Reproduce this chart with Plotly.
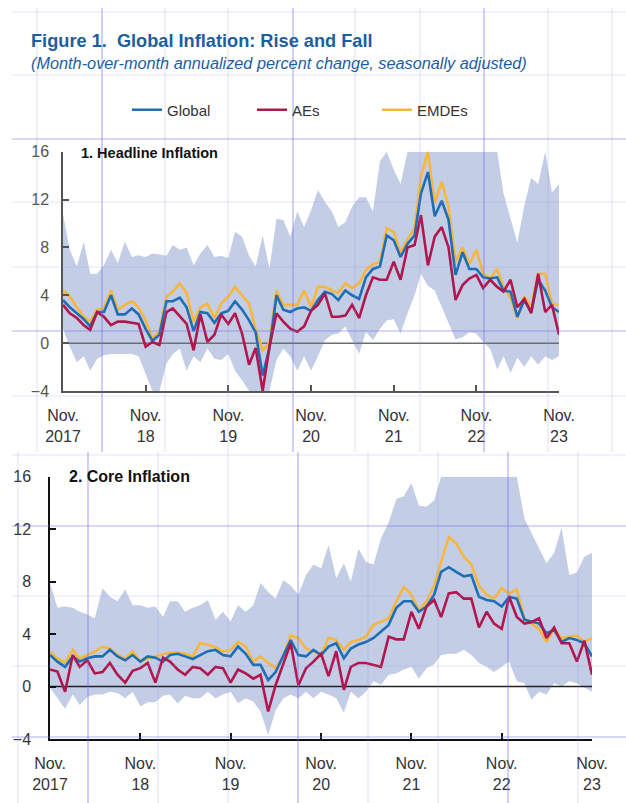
import pandas as pd
import plotly.graph_objects as go

# ---------------- data ----------------
months = pd.date_range("2017-11-01", "2023-11-01", freq="MS")
tick_dates = pd.date_range("2017-11-01", "2023-11-01", freq="12MS")
tick_text = ["Nov.<br>2017", "Nov.<br>18", "Nov.<br>19", "Nov.<br>20",
             "Nov.<br>21", "Nov.<br>22", "Nov.<br>23"]
y_ticks = [-4, 0, 4, 8, 12, 16]

head_global = [3.6, 3.0, 2.5, 2.0, 1.4, 2.6, 2.6, 4.0, 2.4, 2.4, 2.9, 2.4, 1.2, 0.2, 0.7,
               3.5, 3.5, 3.8, 3.0, 1.0, 2.6, 2.5, 1.7, 2.5, 2.7, 3.5, 2.8, 1.9, 0.9, -2.7,
               -0.4, 4.0, 2.8, 2.6, 2.9, 3.0, 2.7, 3.6, 4.3, 4.1, 3.6, 4.4, 4.0, 3.7, 5.5,
               6.2, 6.4, 9.0, 8.6, 7.2, 8.3, 9.0, 12.5, 14.3, 10.6, 11.9, 10.3, 5.7, 7.6,
               6.2, 6.2, 5.5, 5.4, 5.5, 4.4, 4.3, 2.2, 3.6, 2.6, 5.3, 4.4, 3.0, 2.6]
head_emdes = [4.4, 3.9, 3.0, 2.2, 1.8, 2.8, 2.9, 4.4, 2.8, 3.2, 3.5, 3.0, 1.9, 0.4, 1.0,
              3.9, 4.3, 5.0, 4.2, 1.8, 3.0, 3.3, 2.1, 3.3, 3.9, 4.7, 4.0, 3.3, 1.2, -0.6,
              0.0, 4.4, 3.2, 3.2, 3.2, 4.4, 3.0, 4.7, 4.7, 4.4, 4.2, 5.0, 4.6, 5.0, 6.1,
              6.6, 6.8, 9.6, 9.3, 7.6, 8.7, 9.6, 13.9, 16.0, 11.7, 13.5, 11.4, 6.8, 8.0,
              6.6, 7.8, 5.8, 5.4, 6.2, 4.7, 3.8, 2.1, 3.9, 3.0, 5.8, 5.8, 3.3, 3.2]
head_aes = [3.2, 2.5, 2.1, 1.5, 1.1, 2.6, 2.2, 1.5, 1.8, 1.8, 1.7, 1.6, -0.3, 0.1, -0.15,
            2.6, 2.9, 2.2, 1.6, -0.6, 2.4, 0.1, 0.7, 2.4, 1.6, 2.5, 0.8, -1.8, -0.4, -4.0,
            -0.3, 2.5, 1.8, 1.2, 0.95, 1.4, 2.7, 3.2, 4.15, 2.2, 2.2, 2.3, 3.2, 2.1, 4.0,
            5.5, 5.3, 5.3, 6.8, 5.3, 8.0, 8.2, 10.7, 6.5, 8.9, 9.7, 8.0, 3.6, 4.85,
            5.4, 5.7, 4.6, 5.3, 4.7, 4.3, 5.3, 3.0, 3.7, 2.5, 5.8, 2.6, 3.2, 0.7]
head_high = [10.8, 7.8, 6.4, 8.5, 5.8, 5.8, 6.5, 7.8, 6.7, 8.5, 7.2, 7.35, 7.2, 7.5, 7.4,
             7.3, 8.2, 7.8, 8.0, 6.5, 7.5, 8.2, 7.2, 7.3, 7.1, 9.3, 8.9, 7.3, 6.4, 9.0,
             6.2, 10.4, 10.3, 8.9, 11.0, 9.7, 11.1, 12.8, 11.8, 11.0, 9.7, 10.1, 11.4, 12.2, 12.2,
             11.0, 15.2, 16.0, 14.5, 13.3, 16.0, 16.0, 16.0, 16.0, 16.0, 16.0, 16.0, 16.0, 16.0,
             16.0, 16.0, 16.0, 16.0, 16.0, 12.5, 10.5, 8.4, 11.5, 13.8, 13.3, 16.0, 12.6, 13.3]
head_low = [1.2, -0.3, -1.6, -1.1, -2.3, -1.3, -1.0, -0.9, -0.9, -0.9, -0.9, -1.1, -2.5, -4.0, -4.0,
            -1.7, -0.9, -0.45, -2.3, -1.1, -1.6, -0.45, -1.3, -1.4, -0.9, -2.3, -3.1, -4.0, -4.0, -4.0,
            -4.0, -1.4, -0.45, -1.1, -2.3, -1.1, -2.3, -1.1, 0.25, 0.7, 0.8, 1.4, 0.25, -0.9, 0.95,
            0.25, 1.2, 1.9, 2.0, 0.8, 2.5, 4.0, 5.8, 4.8, 4.4, 3.0, 1.6, 0.3, 0.5,
            0.9, 0.8, 0.1, -0.5, -2.2, -1.1, -2.5, -1.2, -2.0, -1.1, -1.8, -1.1, -1.4, -1.1]

core_global = [2.4, 1.9, 1.5, 2.3, 1.9, 2.15, 2.3, 2.3, 2.8, 2.3, 2.0, 2.4, 1.9, 2.3, 2.2,
               1.9, 2.4, 2.5, 2.3, 2.1, 2.4, 2.7, 2.8, 2.4, 2.3, 3.05, 2.5, 1.65, 1.65, 0.5,
               1.1, 2.3, 3.55, 2.4, 2.3, 2.8, 2.4, 3.05, 3.3, 2.15, 2.9, 3.2, 3.4, 3.7, 4.2,
               4.7, 6.0, 6.5, 6.5, 5.7, 6.1, 7.0, 8.75, 9.1, 8.75, 8.4, 8.5, 6.85, 6.6,
               6.5, 6.1, 6.85, 6.7, 5.1, 4.95, 4.8, 4.06, 4.3, 3.4, 3.7, 3.55, 3.3, 2.3]
core_emdes = [2.66, 2.15, 1.8, 2.8, 2.15, 2.4, 2.66, 3.05, 2.9, 2.4, 2.1, 2.7, 1.9, 2.15, 2.3,
              2.5, 2.6, 2.6, 2.5, 2.3, 3.3, 3.2, 3.0, 2.66, 2.8, 3.4, 3.05, 1.9, 2.3, 1.8,
              1.4, 2.3, 3.9, 3.7, 2.9, 2.66, 2.4, 3.7, 3.55, 2.8, 3.4, 3.55, 3.8, 4.7, 4.95,
              5.2, 6.5, 7.6, 7.0, 5.8, 6.5, 7.7, 9.5, 11.4, 10.9, 9.9, 9.3, 7.7, 7.0,
              6.7, 7.5, 7.1, 7.4, 5.2, 4.8, 4.4, 3.4, 4.4, 3.7, 3.8, 3.9, 3.4, 3.7]
core_aes = [1.3, 1.15, -0.4, 2.4, 1.5, 2.0, 1.0, 1.1, 1.8, 0.9, 0.3, 1.2, 1.4, 1.8, 0.3,
            2.2, 1.9, 1.3, 0.9, 1.5, 1.4, 0.9, 1.5, 1.4, 0.3, 1.3, 1.0, 0.6, 0.9, -1.9,
            0.1, 1.8, 3.3, 0.1, 1.4, 1.9, 2.5, 0.8, 2.7, -0.25, 1.5, 1.8, 1.8, 1.65, 1.5,
            3.8, 3.6, 3.6, 5.7, 4.4, 6.1, 6.6, 5.3, 7.1, 7.2, 6.7, 6.7, 4.5, 5.7,
            4.8, 4.4, 6.85, 5.3, 4.8, 4.9, 5.2, 3.7, 4.5, 3.3, 3.3, 1.9, 3.5, 0.9]
core_high = [7.9, 6.0, 6.1, 6.0, 5.7, 5.5, 5.2, 7.5, 6.85, 6.5, 7.4, 6.2, 6.2, 6.0, 6.1,
             5.3, 6.5, 6.5, 5.7, 6.0, 6.2, 6.6, 5.1, 5.7, 4.95, 6.2, 5.7, 6.2, 7.9, 7.2,
             6.7, 8.1, 7.7, 7.0, 8.5, 9.3, 9.0, 10.8, 8.25, 9.4, 8.0, 10.5, 9.5, 9.3, 11.3,
             12.5, 14.3, 14.5, 15.5, 13.8, 13.7, 14.2, 16.0, 16.0, 16.0, 16.0, 16.0, 16.0, 16.0,
             16.0, 16.0, 16.0, 16.0, 12.8, 11.7, 10.5, 9.4, 10.2, 12.1, 8.5, 8.7, 9.9, 10.2]
core_low = [-0.1, -0.9, -1.7, -0.6, -1.4, -0.8, -0.6, -0.6, -0.4, -0.5, -0.9, -0.4, -1.5, -1.2, -1.2,
            -0.7, -0.6, -1.3, -0.7, -0.9, -0.9, -0.4, -0.9, -0.6, -0.4, -1.27, -0.9, -1.15, -1.9, -3.7,
            -1.8, -0.9, -0.6, -0.9, -0.4, -0.9, -0.4, -0.6, -0.9, -2.0, -0.4, -0.9, -0.4, 0.4, 0.13,
            0.9, 1.0, 1.3, 1.5, 0.6, 1.4, 1.7, 2.4, 2.5, 2.5, 2.8, 2.4, 1.8, 1.5,
            1.1, 1.5, 1.9, 0.4, 0.25, -1.0, -0.4, -0.6, 0.25, 0.0, 0.4, 0.25, -0.1, -0.4]

# ---------------- styles ----------------
W, H = 626, 803
FONT = "Liberation Sans, Arial, sans-serif"
C_GLOBAL = "#1f6db3"
C_AES = "#b0174e"
C_EMDES = "#f6b73c"
C_BAND = "#c4cde6"
C_TITLE = "#1d5e9f"


def px_x(x):
    return x / W


def px_y(y):
    return 1 - y / H


fig = go.Figure()

panels = [
    dict(x="x", y="y", hi=head_high, lo=head_low, g=head_global, a=head_aes, e=head_emdes,
         legend=True, zc="#6e6e6e"),
    dict(x="x2", y="y2", hi=core_high, lo=core_low, g=core_global, a=core_aes, e=core_emdes,
         legend=False, zc="#222222"),
]

for p in panels:
    fig.add_trace(go.Scatter(x=months, y=p["lo"], xaxis=p["x"], yaxis=p["y"], mode="lines",
                             line=dict(width=0, color=C_BAND), showlegend=False, hoverinfo="skip"))
    fig.add_trace(go.Scatter(x=months, y=p["hi"], xaxis=p["x"], yaxis=p["y"], mode="lines",
                             line=dict(width=0, color=C_BAND), fill="tonexty", fillcolor=C_BAND,
                             showlegend=False, hoverinfo="skip"))
    fig.add_trace(go.Scatter(x=[months[0], months[-1]], y=[0, 0], xaxis=p["x"], yaxis=p["y"],
                             mode="lines", line=dict(width=1.5, color=p["zc"]),
                             showlegend=False, hoverinfo="skip"))
    fig.add_trace(go.Scatter(x=months, y=p["e"], xaxis=p["x"], yaxis=p["y"], mode="lines",
                             name="EMDEs", line=dict(width=2.6, color=C_EMDES),
                             showlegend=p["legend"], legendrank=3))
    fig.add_trace(go.Scatter(x=months, y=p["g"], xaxis=p["x"], yaxis=p["y"], mode="lines",
                             name="Global", line=dict(width=2.6, color=C_GLOBAL),
                             showlegend=p["legend"], legendrank=1))
    fig.add_trace(go.Scatter(x=months, y=p["a"], xaxis=p["x"], yaxis=p["y"], mode="lines",
                             name="AEs", line=dict(width=2.6, color=C_AES),
                             showlegend=p["legend"], legendrank=2))

xrange = [months[0], months[-1]]


def xaxis(domain, anchor, col):
    return dict(domain=domain, anchor=anchor, type="date", range=xrange,
                tickmode="array", tickvals=tick_dates, ticktext=tick_text,
                ticks="inside", ticklen=6, tickwidth=1.5, tickcolor=col,
                showline=True, linecolor=col, linewidth=1.5, showgrid=False, zeroline=False,
                automargin=False,
                tickfont=dict(family=FONT, size=16, color="#333333"), ticklabelstandoff=9)


def yaxis(domain, anchor, col, lab, standoff):
    return dict(domain=domain, anchor=anchor, range=[-4, 16], tickmode="array",
                tickvals=y_ticks, ticks="inside", ticklen=6, tickwidth=1.5, tickcolor=col,
                showline=True, linecolor=col, linewidth=1.5, showgrid=False, zeroline=False,
                automargin=False,
                tickfont=dict(family=FONT, size=16, color=lab), ticklabelstandoff=standoff)


fig.update_layout(
    width=W, height=H, margin=dict(l=0, r=0, t=0, b=0, autoexpand=False),
    paper_bgcolor="white", plot_bgcolor="rgba(0,0,0,0)",
    xaxis=xaxis([px_x(63), px_x(559)], "y", "#555555"),
    yaxis=yaxis([px_y(391), px_y(151.7)], "x", "#555555", "#555555", 9),
    xaxis2=xaxis([px_x(50), px_x(592)], "y2", "#111111"),
    yaxis2=yaxis([px_y(739), px_y(476.7)], "x2", "#111111", "#333333", 14),
    legend=dict(orientation="h", x=px_x(127), y=px_y(110), xanchor="left", yanchor="middle",
                font=dict(family=FONT, size=15, color="#333333"), bgcolor="rgba(0,0,0,0)",
                entrywidth=80, entrywidthmode="pixels", traceorder="normal"),
    showlegend=True,
)

annos = [
    dict(text="<b>Figure 1.  Global Inflation: Rise and Fall</b>", x=px_x(29), y=px_y(41),
         font=dict(family=FONT, size=18.2, color=C_TITLE)),
    dict(text="<i>(Month-over-month annualized percent change, seasonally adjusted)</i>",
         x=px_x(29), y=px_y(63), font=dict(family=FONT, size=16.3, color=C_TITLE)),
    dict(text="<b>1. Headline Inflation</b>", x=px_x(79), y=px_y(153),
         font=dict(family=FONT, size=14.5, color="#111111")),
    dict(text="<b>2. Core Inflation</b>", x=px_x(67), y=px_y(476),
         font=dict(family=FONT, size=16, color="#111111")),
]
for a in annos:
    fig.add_annotation(xref="paper", yref="paper", xanchor="left", yanchor="middle",
                       showarrow=False, **a)

# faint guide-line overlay seen on the reference picture
top_v = [(37, 0), (102, 1), (165, 0), (228, 0), (293, 1), (355, 0), (420, 0), (484, 1), (548, 0), (612, 0)]
top_h = [(12, 0), (75, 0), (139, 1), (202, 0), (267, 0), (331, 1), (396, 0)]
bot_v = [(18, 0), (88, 1), (158, 0), (228, 0), (298, 1), (368, 0), (438, 0), (508, 1), (578, 0)]
bot_h = [(455, 0), (526, 1), (596, 0), (666, 0), (737, 1)]
GUIDE = {0: "rgba(150,150,235,0.25)", 1: "rgba(110,110,235,0.55)"}
shapes = []
for xv, s in top_v:
    shapes.append(dict(type="line", xref="paper", yref="paper", x0=px_x(xv), x1=px_x(xv),
                       y0=px_y(452), y1=px_y(8), line=dict(color=GUIDE[s], width=1.2)))
for yv, s in top_h:
    shapes.append(dict(type="line", xref="paper", yref="paper", x0=px_x(12), x1=1,
                       y0=px_y(yv), y1=px_y(yv), line=dict(color=GUIDE[s], width=1.2)))
for xv, s in bot_v:
    shapes.append(dict(type="line", xref="paper", yref="paper", x0=px_x(xv), x1=px_x(xv),
                       y0=0, y1=px_y(452), line=dict(color=GUIDE[s], width=1.2)))
for yv, s in bot_h:
    shapes.append(dict(type="line", xref="paper", yref="paper", x0=px_x(12), x1=1,
                       y0=px_y(yv), y1=px_y(yv), line=dict(color=GUIDE[s], width=1.2)))
fig.update_layout(shapes=[dict(layer="above", **s) for s in shapes])

fig.write_html("out.html", config={"displayModeBar": False},
               post_script="document.body.style.margin='0px';document.body.style.overflow='hidden';")
